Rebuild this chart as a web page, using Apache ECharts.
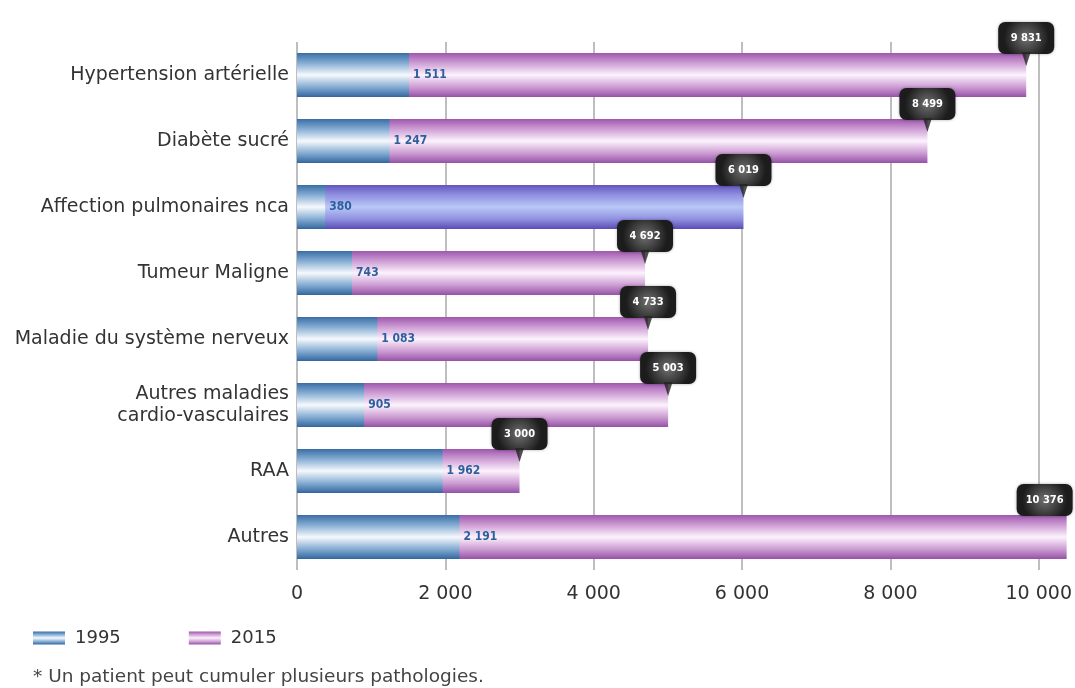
<!DOCTYPE html>
<html>
<head>
<meta charset="utf-8">
<script src="https://cdn.jsdelivr.net/npm/echarts@6/dist/echarts.min.js"></script>
<style>
  html, body { margin: 0; padding: 0; background: #ffffff; }
  #chart { width: 1075px; height: 688px; }
</style>
</head>
<body>
<div id="chart"></div>
<script>
// Patients by pathology, 1995 vs 2015
const categories = [
  'Hypertension artérielle',
  'Diabète sucré',
  'Affection pulmonaires nca',
  'Tumeur Maligne',
  'Maladie du système nerveux',
  'Autres maladies\ncardio-vasculaires',
  'RAA',
  'Autres'
];
const values1995 = [1511, 1247, 380, 743, 1083, 905, 1962, 2191];
const values2015 = [9831, 8499, 6019, 4692, 4733, 5003, 3000, 10376];
const seriesNames = ['1995', '2015'];
const axisMin = 0;
const axisMax = 10000;
const axisStep = 2000;
const footnote = '* Un patient peut cumuler plusieurs pathologies.';

const FONT = '"DejaVu Sans", sans-serif';
const NUM_FONT = '"DejaVu Sans Condensed", "Liberation Sans Narrow", "DejaVu Sans", sans-serif';

function fmt(v) {
  return String(Math.round(v)).replace(/\B(?=(\d{3})+(?!\d))/g, ' ');
}

function barGradient(edgeTop, mid, center, edgeBottom) {
  return new echarts.graphic.LinearGradient(0, 0, 0, 1, [
    { offset: 0, color: edgeTop },
    { offset: 0.22, color: mid },
    { offset: 0.5, color: center },
    { offset: 0.78, color: mid },
    { offset: 1, color: edgeBottom }
  ]);
}

const blueFill = barGradient('#3a6da6', '#82aad2', '#f6f9fd', '#33669e');
const purpleFill = barGradient('#9e57ad', '#cc9bd3', '#fcf2fc', '#9552a5');
const violetFill = barGradient('#6354be', '#8f8fe0', '#b9c8f6', '#5a4cb3');

// the pulmonary row uses a violet tone for its 2015 bar;
// the widest callout is nudged left so it stays inside the canvas
const data2015 = values2015.map((v, i) => {
  const item = { value: v };
  if (i === 2) item.itemStyle = { color: violetFill };
  if (v > axisMax) item.label = { offset: [-22, -37] };
  return item;
});

const chart = echarts.init(document.getElementById('chart'), null, { renderer: 'canvas' });

chart.setOption({
  animation: false,
  backgroundColor: '#ffffff',
  textStyle: { fontFamily: FONT },
  grid: { left: 297, right: 34, top: 42, bottom: 118 },
  legend: {
    left: 28,
    top: 624,
    itemWidth: 32,
    itemHeight: 13,
    itemGap: 68,
    selectedMode: false,
    textStyle: { fontFamily: FONT, fontSize: 18, color: '#333', padding: [3, 0, 0, 5] },
    data: [
      { name: seriesNames[0], icon: 'rect', itemStyle: { color: blueFill } },
      { name: seriesNames[1], icon: 'rect', itemStyle: { color: purpleFill } }
    ]
  },
  xAxis: {
    type: 'value',
    min: axisMin,
    max: axisMax,
    interval: axisStep,
    axisLine: { show: false },
    axisTick: { show: false },
    axisLabel: {
      margin: 15,
      fontFamily: FONT,
      fontSize: 19,
      color: '#333',
      formatter: (v) => fmt(v)
    },
    splitLine: { show: true, lineStyle: { color: '#a8a8a8', width: 1.5 } }
  },
  yAxis: {
    type: 'category',
    data: categories,
    inverse: true,
    axisLine: { show: false },
    axisTick: { show: false },
    axisLabel: {
      margin: 8,
      fontFamily: FONT,
      fontSize: 19,
      lineHeight: 22,
      color: '#333'
    }
  },
  series: [
    {
      name: seriesNames[1],
      type: 'bar',
      data: data2015,
      barWidth: 44,
      barGap: '-100%',
      clip: false,
      itemStyle: { color: purpleFill },
      label: {
        show: true,
        position: ['100%', '50%'],
        offset: [0, -37],
        align: 'center',
        verticalAlign: 'middle',
        formatter: (p) => fmt(p.value),
        color: '#ffffff',
        fontFamily: NUM_FONT,
        fontWeight: 'bold',
        fontSize: 11,
        width: 42,
        height: 20,
        lineHeight: 20,
        padding: [6, 7],
        borderRadius: 7,
        backgroundColor: new echarts.graphic.RadialGradient(0.5, 0.5, 0.7, [
          { offset: 0, color: '#707070' },
          { offset: 1, color: '#1c1c1c' }
        ]),
        shadowColor: 'rgba(0,0,0,0.35)',
        shadowBlur: 3
      },
      z: 2
    },
    {
      name: seriesNames[0],
      type: 'bar',
      data: values1995,
      barWidth: 44,
      itemStyle: { color: blueFill },
      label: {
        show: true,
        position: 'right',
        distance: 4,
        formatter: (p) => fmt(p.value),
        color: '#2c5f9e',
        fontFamily: NUM_FONT,
        fontWeight: 'bold',
        fontSize: 12
      },
      z: 3
    },
    {
      // downward pointers of the 2015 callouts
      name: 'pointer',
      type: 'scatter',
      data: values2015.map((v, i) => [v, i]),
      symbol: 'triangle',
      symbolRotate: 180,
      symbolSize: [9, 14],
      symbolOffset: [0, -16],
      itemStyle: { color: '#232323' },
      silent: true,
      z: 4
    }
  ],
  graphic: [
    {
      type: 'text',
      left: 33,
      top: 668,
      style: {
        text: footnote,
        fontFamily: FONT,
        fontSize: 18.5,
        fill: '#444'
      }
    }
  ]
});
</script>
</body>
</html>
